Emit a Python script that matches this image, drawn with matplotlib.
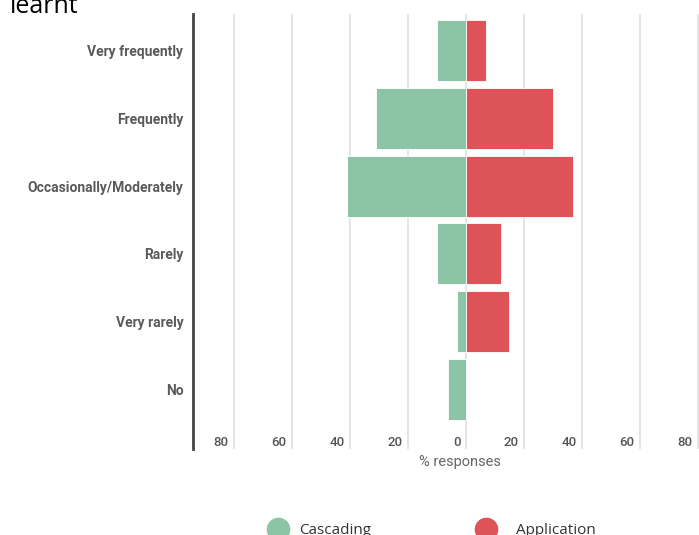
import numpy as np
import matplotlib
matplotlib.use("Agg")
import matplotlib.pyplot as plt
import matplotlib.transforms as mtransforms
from matplotlib.lines import Line2D

categories = ["Very frequently", "Frequently", "Occasionally/Moderately",
              "Rarely", "Very rarely", "No"]
cascading = [10, 31, 41, 10, 3, 6]     # % responses, drawn to the left
application = [7, 30, 37, 12, 15, 0]   # % responses, drawn to the right
ticks = [-80, -60, -40, -20, 0, 20, 40, 60, 80]

green = "#8cc4a6"
red = "#dd5357"

plt.rcParams["font.family"] = ["Roboto", "DejaVu Sans"]

fig = plt.figure(figsize=(6.99, 5.35), dpi=100)
ax = fig.add_axes([193 / 699, 1 - 449 / 535, 506 / 699, 435 / 535])

y = np.arange(len(categories))
ax.barh(y, -np.array(cascading), height=0.9, color=green,
        edgecolor="white", linewidth=0.6, zorder=3)
ax.barh(y, application, height=0.9, color=red,
        edgecolor="white", linewidth=0.6, zorder=3)

ax.set_xlim(-94, 80.4)
ax.set_ylim(5.88, -0.54)

ax.set_xticks(ticks)
ax.set_xticklabels([str(abs(t)) for t in ticks])
ax.tick_params(axis="x", length=0, pad=-5, labelsize=9.5, labelcolor="#555555")
offset = mtransforms.ScaledTranslation(-5 / 100, 0, fig.dpi_scale_trans)
for lbl in ax.get_xticklabels():
    lbl.set_ha("right")
    lbl.set_va("center")
    lbl.set_fontweight("medium")
    lbl.set_transform(lbl.get_transform() + offset)

ax.set_yticks(y)
ax.set_yticklabels(categories, fontweight="bold")
ax.tick_params(axis="y", length=0, pad=7, labelsize=10, labelcolor="#5a5a5a")

ax.grid(axis="x", color="#e3e3e3", linewidth=1.3, zorder=0)
ax.set_axisbelow(True)
for s in ["top", "right", "bottom"]:
    ax.spines[s].set_visible(False)
ax.spines["left"].set_color("#444444")
ax.spines["left"].set_linewidth(2)

ax.set_xlabel("% responses", fontsize=10.5, color="#666666", va="center")
ax.xaxis.set_label_coords((460 - 193) / 506, -13 / 435)

fig.text(10 / 699, 1 - 13 / 535, "learnt", fontsize=18, family="Open Sans",
         va="baseline", color="black")

# two legend entries placed separately (spacing differs in the original)
for name, col, x0, gap in [("Cascading", green, 267, 0.65),
                           ("Application", red, 475, 1.25)]:
    h = Line2D([], [], marker="o", linestyle="none", markersize=16,
               markerfacecolor=col, markeredgecolor=col)
    fig.legend([h], [name], loc="center left",
               bbox_to_anchor=(x0 / 699, 1 - 531 / 535), frameon=False,
               prop={"family": "Open Sans", "size": 11}, labelcolor="#333333",
               handlelength=1.45, handletextpad=gap, borderpad=0,
               borderaxespad=0)

fig.savefig("out.png", dpi=100)
